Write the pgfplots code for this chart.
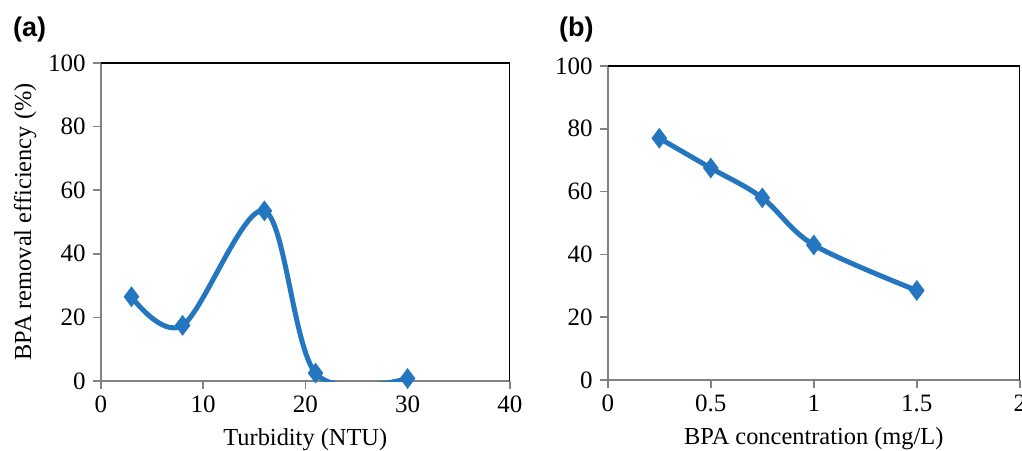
\documentclass[border=0pt]{standalone}
\usepackage{pgfplots}
\pgfplotsset{compat=1.18}
\usepackage{fontspec}
\setmainfont{Liberation Serif}
\newfontfamily\labelfont{Liberation Sans}
\definecolor{xlblue}{RGB}{36,118,192}
\definecolor{axgray}{RGB}{130,130,130}

\pgfplotsset{
  panel/.style={
    scale only axis,
    axis lines*=left,
    axis line style={axgray, line width=0.8pt},
    tick style={axgray, line width=0.8pt},
    tick align=outside,
    major tick length=4pt,
    ymin=0, ymax=100,
    ytick={0,20,...,100},
    ticklabel style={font=\fontsize{12.5}{14}\selectfont},
    label style={font=\fontsize{12.2}{14}\selectfont},
    /pgf/number format/assume math mode=true,
    clip=true,
  },
  bpa/.style={
    color=xlblue, line width=2.5pt, smooth, tension=0.55,
    mark=diamond*, mark size=4.8pt,
    mark options={solid, line width=0.5pt, fill=xlblue, draw=xlblue},
  },
}

\begin{document}
\begin{tikzpicture}[x=1pt,y=1pt]
\useasboundingbox (0,0) rectangle (511,225);

% panel (a)
\begin{axis}[panel,
  at={(50.4pt,34.5pt)}, anchor=south west,
  width=204.5pt, height=159pt,
  xmin=0, xmax=40, xtick={0,10,...,40},
  xlabel={Turbidity (NTU)},
  ylabel={BPA removal efficiency (\%)},
  xlabel style={yshift=-1pt},
  ylabel style={yshift=-1pt},
]
\addplot[bpa] coordinates {(3,26.5) (8,17.5) (16,53.5) (21,2.5) (30,0.8)};
\draw[black, line width=0.8pt] (rel axis cs:0,1) -- (rel axis cs:1,1) -- (rel axis cs:1,0);
\end{axis}
\node[anchor=west, font=\labelfont\bfseries\fontsize{13.5}{15}\selectfont] at (3pt,210pt) {(a)};

% panel (b)
\begin{axis}[panel,
  at={(303.9pt,35pt)}, anchor=south west,
  width=206pt, height=157pt,
  xmin=0, xmax=2, xtick={0,0.5,...,2},
  xlabel={BPA concentration (mg/L)},
  xlabel style={yshift=-1pt},
]
\addplot[bpa] coordinates {(0.25,77) (0.5,67.5) (0.75,58) (1,43) (1.5,28.5)};
\draw[black, line width=0.8pt] (rel axis cs:0,1) -- (rel axis cs:1,1) -- (rel axis cs:1,0);
\end{axis}
\node[anchor=west, font=\labelfont\bfseries\fontsize{13.5}{15}\selectfont] at (276pt,210pt) {(b)};
\end{tikzpicture}
\end{document}
